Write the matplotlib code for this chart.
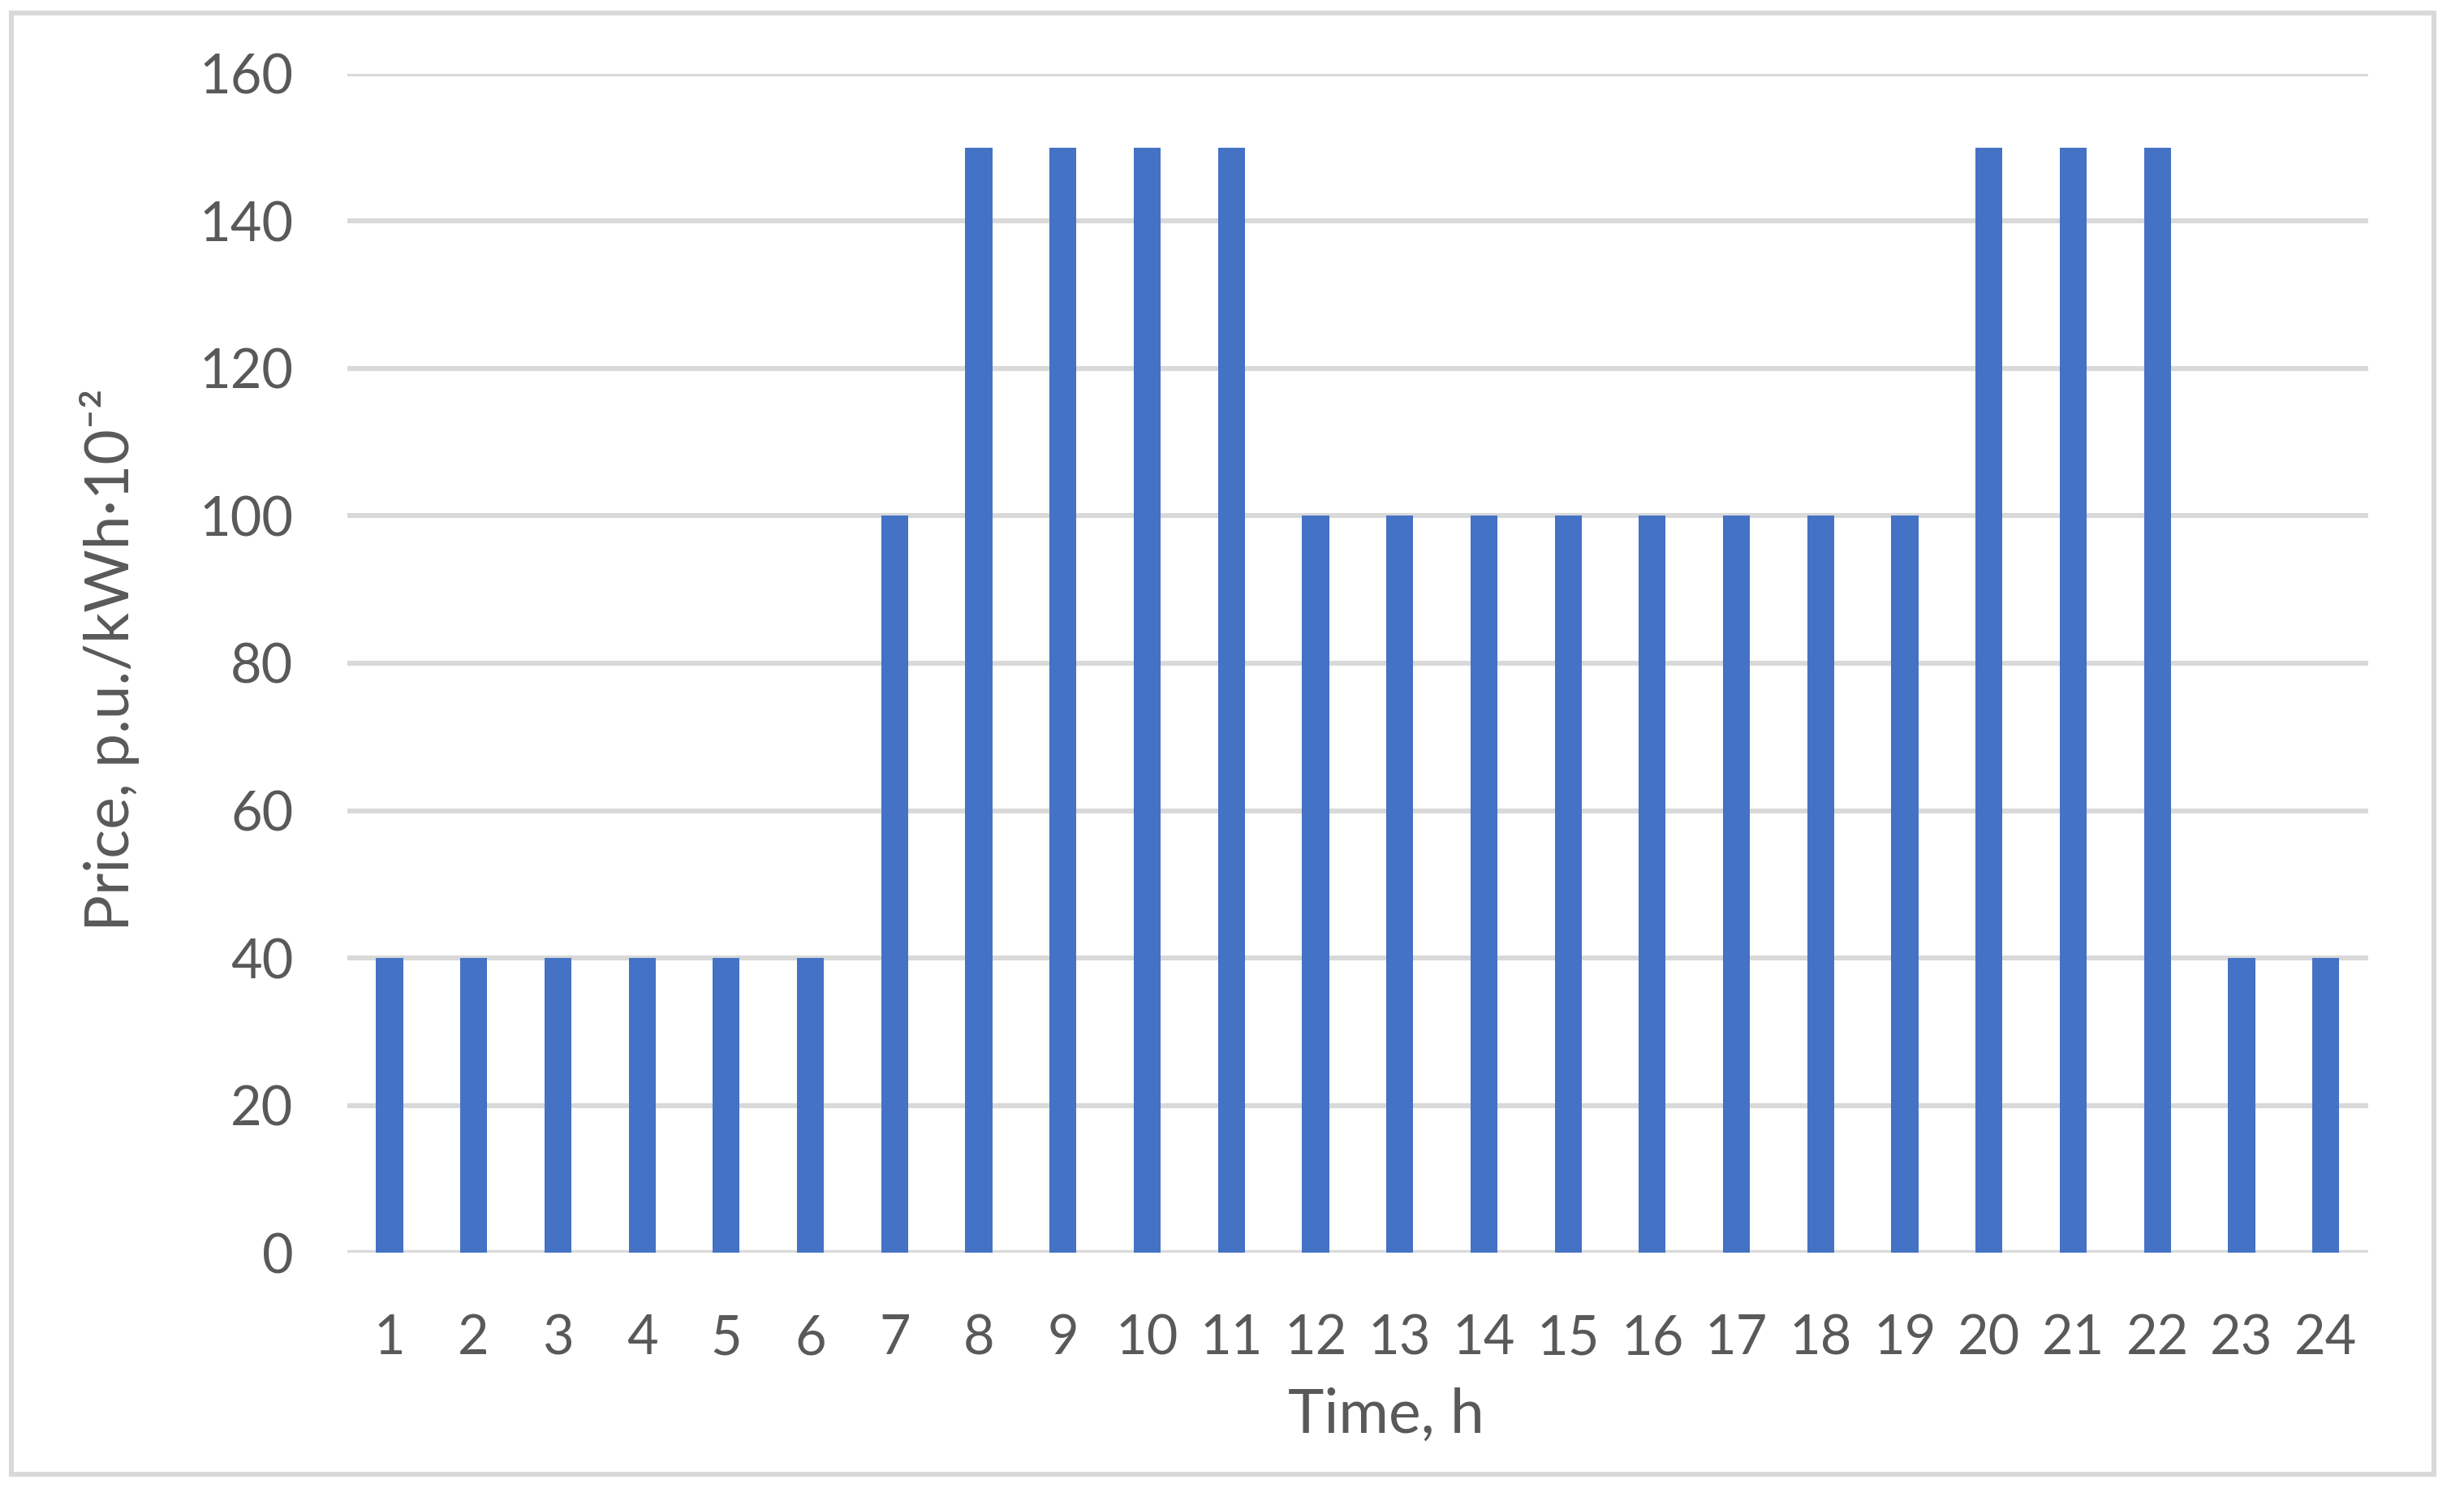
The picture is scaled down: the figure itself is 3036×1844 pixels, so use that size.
"""Hourly electricity price bar chart (Excel-style look)."""
import matplotlib

matplotlib.use("Agg")
import matplotlib.pyplot as plt
from matplotlib.patches import Rectangle

# data
hours = list(range(1, 25))
price = [40, 40, 40, 40, 40, 40, 100, 150, 150, 150, 150, 100,
         100, 100, 100, 100, 100, 100, 100, 150, 150, 150, 40, 40]
y_ticks = [0, 20, 40, 60, 80, 100, 120, 140, 160]

BAR_COLOR = "#4472C4"
GRID_COLOR = "#D9D9D9"
TEXT_COLOR = "#595959"
FONTS = ["Lato", "DejaVu Sans"]

plt.rcParams["font.family"] = FONTS

fig = plt.figure(figsize=(15.18, 9.22), dpi=200)
ax = fig.add_axes([0.141, 0.1632, 0.820, 0.7875])

ax.bar(hours, price, width=0.32, color=BAR_COLOR, zorder=3)

ax.set_xlim(0.5, 24.5)
ax.set_ylim(0, 160)
ax.set_xticks(hours)
ax.set_xticklabels([str(h) for h in hours])
ax.set_yticks(y_ticks)

ax.grid(axis="y", color=GRID_COLOR, linewidth=2.2, zorder=0)
ax.set_axisbelow(True)
for side in ["top", "right", "left", "bottom"]:
    ax.spines[side].set_visible(False)
ax.axhline(0, color=GRID_COLOR, linewidth=2.2, zorder=1)

ax.tick_params(axis="both", length=0, labelsize=24, labelcolor=TEXT_COLOR)
ax.tick_params(axis="x", pad=27)
ax.tick_params(axis="y", pad=24)

ax.set_xlabel("Time, h", fontsize=27, color=TEXT_COLOR)
ax.set_ylabel("Price, p.u./kWh·10⁻²", fontsize=27, color=TEXT_COLOR)
ax.xaxis.set_label_coords(0.514, -0.114)
ax.yaxis.set_label_coords(-0.103, 0.503)

# chart-area border
fig.patches.append(Rectangle((0.0046, 0.0152), 0.9832, 0.9761,
                             transform=fig.transFigure, fill=False,
                             edgecolor=GRID_COLOR, linewidth=2.2))

fig.savefig("out.png", dpi=200, facecolor="white")
